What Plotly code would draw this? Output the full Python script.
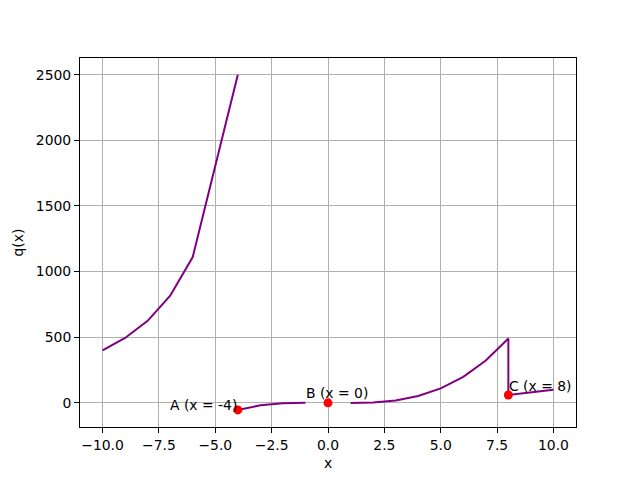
import plotly.graph_objects as go

# Segment 1: left branch
x_left = [-10, -9, -8, -7, -6, -5, -4]
y_left = [400, 494, 625, 816, 1111, 1805, 2500]

# Segment 2: middle-left branch
x_midl = [-4, -3, -2, -1]
y_midl = [-54, -19, -3, 1]

# Segment 3: right branch (with jump at x = 8)
x_right = [1, 2, 3, 4, 5, 6, 7, 8, 8, 9, 10]
y_right = [-1, 3, 18, 52, 110, 198, 322, 490, 60, 80, 100]

# Highlighted points
pt_x = [-4, 0, 8]
pt_y = [-54, 0, 60]
pt_labels = ["A (x = -4)", "B (x = 0)", "C (x = 8)"]
lbl_x = [-4, -1, 8]
lbl_y = [-19, 76, 131]
lbl_anchor = ["right", "left", "left"]

x_ticks = [-10, -7.5, -5, -2.5, 0, 2.5, 5, 7.5, 10]
x_ticktext = ["\u221210.0", "\u22127.5", "\u22125.0", "\u22122.5", "0.0", "2.5", "5.0", "7.5", "10.0"]
y_ticks = [0, 500, 1000, 1500, 2000, 2500]

FONT = "DejaVu Sans"
FS = 13.9
LINE = "#800080"

fig = go.Figure()
for xs, ys in [(x_left, y_left), (x_midl, y_midl), (x_right, y_right)]:
    fig.add_trace(go.Scatter(x=xs, y=ys, mode="lines",
                             line=dict(color=LINE, width=2), showlegend=False,
                             hoverinfo="skip"))
fig.add_trace(go.Scatter(x=pt_x, y=pt_y, mode="markers",
                         marker=dict(color="red", size=9, line=dict(width=0)),
                         showlegend=False))

for lx, ly, t, a in zip(lbl_x, lbl_y, pt_labels, lbl_anchor):
    fig.add_annotation(x=lx, y=ly, xref="x", yref="y", text=t, showarrow=False,
                       xanchor=a, yanchor="middle", borderpad=0,
                       font=dict(family=FONT, size=FS, color="black"))

axis_common = dict(showline=True, linecolor="black", linewidth=1, mirror=True,
                   ticks="outside", ticklen=5, tickwidth=1, tickcolor="black",
                   showgrid=True, gridcolor="#b0b0b0", gridwidth=1,
                   zeroline=False,
                   tickfont=dict(family=FONT, size=FS, color="black"))

fig.update_xaxes(range=[-11, 11], tickvals=x_ticks, ticktext=x_ticktext,
                 title=dict(text="x", font=dict(family=FONT, size=FS, color="black"), standoff=6),
                 **axis_common)
fig.update_yaxes(range=[-184, 2627], tickvals=y_ticks,
                 title=dict(text="q(x)", font=dict(family=FONT, size=FS, color="black"), standoff=8),
                 **axis_common)

# The page body adds an 8px offset; compensate so the plot area matches.
fig.update_layout(width=632, height=472,
                  margin=dict(l=72, r=64, t=50, b=53, autoexpand=False),
                  plot_bgcolor="white", paper_bgcolor="white",
                  font=dict(family=FONT, size=FS, color="black"))

fig.write_html("out.html")
